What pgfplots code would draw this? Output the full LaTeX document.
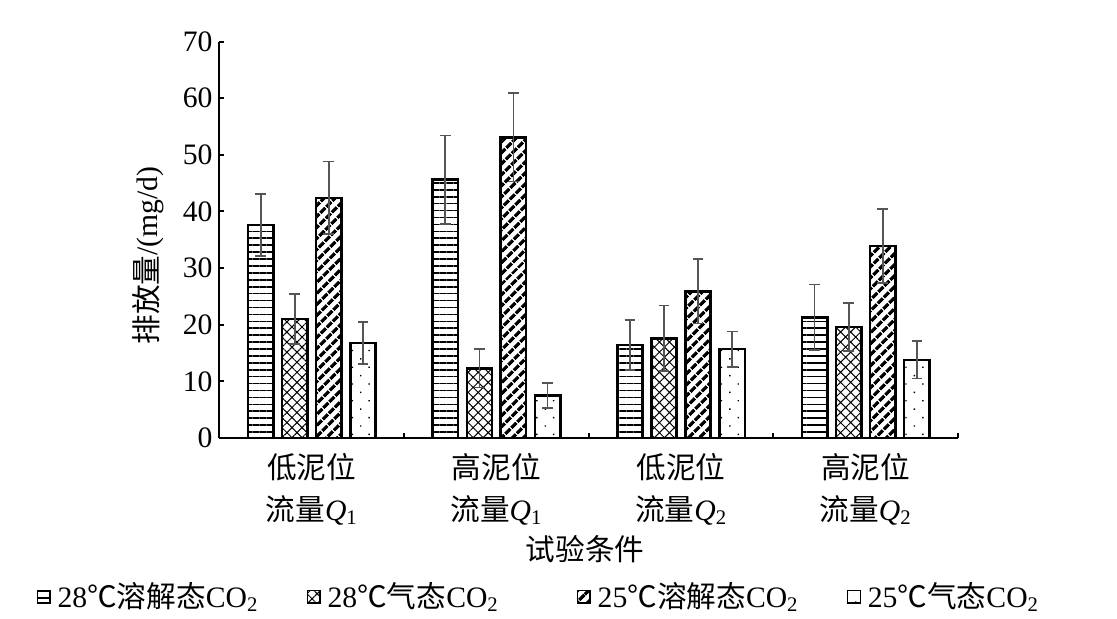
\documentclass[border=0pt]{standalone}
\usepackage{pgfplots}
\usepackage{pgfplotstable}
\pgfplotsset{compat=1.18}
\usetikzlibrary{patterns.meta}
\usepackage{fontspec}
\setmainfont{Liberation Serif}
\newfontfamily\cjk{Noto Sans CJK SC}

% x: bar position (condition index + offset within group), y: emission (mg/d), e: error
\pgfplotstableread{
x y e
-0.277 37.6 5.5
0.723 45.6 7.8
1.723 16.4 4.4
2.723 21.3 5.8
}\dataA
\pgfplotstableread{
x y e
-0.092 21.0 4.4
0.908 12.3 3.4
1.908 17.6 5.8
2.908 19.6 4.2
}\dataB
\pgfplotstableread{
x y e
0.092 42.4 6.4
1.092 53.1 7.8
2.092 25.9 5.7
3.092 33.9 6.5
}\dataC
\pgfplotstableread{
x y e
0.277 16.8 3.7
1.277 7.5 2.2
2.277 15.7 3.1
3.277 13.8 3.3
}\dataD

\definecolor{errgray}{RGB}{85,85,85}

\begin{document}
\begin{tikzpicture}[font=\fontsize{15}{20}\selectfont]
\begin{axis}[
  scale only axis,
  width=373.5pt, height=200.5pt,
  xmin=-0.5, xmax=3.5, ymin=0, ymax=70,
  axis x line*=bottom, axis y line*=left,
  axis line style={line width=1pt},
  tick align=inside,
  major tick length=2.5pt, minor tick length=2.5pt,
  tick style={line width=1pt, black},
  ytick={0,10,...,70},
  xtick={0,1,2,3},
  minor xtick={0.5,1.5,2.5,3.5},
  major x tick style={draw=none},
  xticklabels={
    {{\cjk 低泥位}\\[1.5pt]{\cjk 流量}\textit{Q}\textsubscript{1}},
    {{\cjk 高泥位}\\[1.5pt]{\cjk 流量}\textit{Q}\textsubscript{1}},
    {{\cjk 低泥位}\\[1.5pt]{\cjk 流量}\textit{Q}\textsubscript{2}},
    {{\cjk 高泥位}\\[1.5pt]{\cjk 流量}\textit{Q}\textsubscript{2}}},
  xticklabel style={align=center, yshift=-4pt},
  /pgf/number format/assume math mode=true,
  every axis y label/.style={at={(axis description cs:-0.0964,0.46)}, rotate=90, anchor=center},
  ylabel={{\cjk 排放量}/(mg/d)},
  every axis x label/.style={at={(axis description cs:0.495,-0.28)}, anchor=center},
  xlabel={\cjk 试验条件},
  clip=false,
  legend columns=4,
  legend style={draw=none, fill=none, inner sep=0pt, outer sep=0pt,
    at={(axis description cs:-0.2477,-0.40)}, anchor=west,
    nodes={inner xsep=2pt, inner ysep=1pt, text width=124pt, align=left},
    /tikz/every odd column/.style={column sep=1.5pt},
    /tikz/every even column/.style={column sep=0pt}},
  legend image code/.code={\draw[#1, line width=0.7pt] (0pt,-3.2pt) rectangle (6.4pt,3.2pt);},
  error bars/y dir=both,
  error bars/y explicit,
  error bars/error bar style={line width=0.9pt, draw=errgray},
  error bars/error mark options={rotate=90, mark size=2.7pt, line width=0.9pt, draw=errgray},
  every axis plot/.append style={ybar, bar width=12.8pt, bar shift=0pt, draw=black, line width=1.3pt},
]
\addplot[pattern={Lines[angle=0,distance=3.5pt,line width=0.8pt]}, pattern color=black]
  table[x=x, y=y, y error=e]{\dataA};
\addlegendentry{28{\cjk ℃溶解态}CO\textsubscript{2}}
\addplot[pattern={Hatch[angle=45,distance=3.6pt,line width=0.5pt]}, pattern color=black]
  table[x=x, y=y, y error=e]{\dataB};
\addlegendentry{28{\cjk ℃气态}CO\textsubscript{2}}
\addplot[pattern={Lines[angle=45,distance=4pt,line width=1.8pt]}, pattern color=black]
  table[x=x, y=y, y error=e]{\dataC};
\addlegendentry{25{\cjk ℃溶解态}CO\textsubscript{2}}
\addplot[pattern={Dots[angle=45,distance=6pt,radius=0.5pt]}, pattern color=black]
  table[x=x, y=y, y error=e]{\dataD};
\addlegendentry{25{\cjk ℃气态}CO\textsubscript{2}}
\end{axis}
\path ([shift={(-111pt,-91.5pt)}]current axis.south west) rectangle ([shift={(74pt,21pt)}]current axis.north east);
\end{tikzpicture}
\end{document}
